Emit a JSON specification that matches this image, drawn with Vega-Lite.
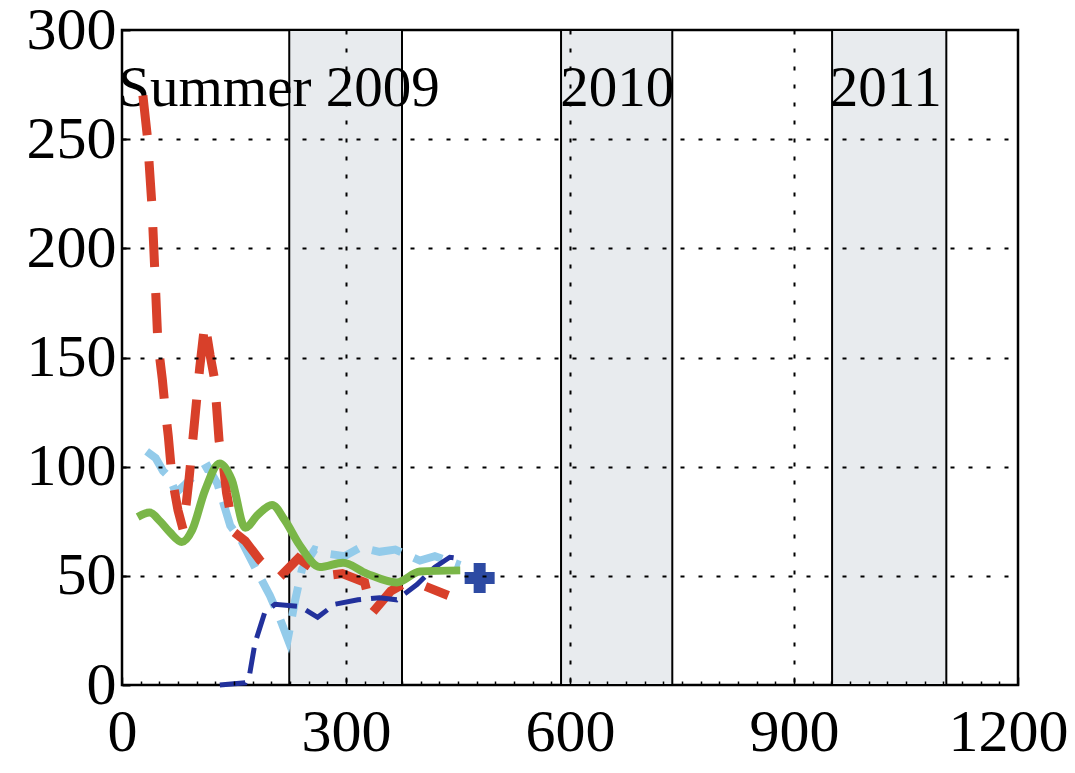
{
  "$schema": "https://vega.github.io/schema/vega-lite/v6.json",
  "width": 896,
  "height": 655,
  "autosize": {"type": "none"},
  "padding": {"left": 122, "top": 30, "right": 57, "bottom": 88},
  "background": "white",
  "config": {
    "view": {"stroke": "black", "strokeWidth": 2.5},
    "font": "Liberation Serif"
  },
  "datasets": {
    "seasons": [
      {"start": 224, "end": 375},
      {"start": 588, "end": 737},
      {"start": 951, "end": 1104}
    ],
    "notes": [
      {"x": -5, "y": 265, "text": "Summer 2009"},
      {"x": 587, "y": 265, "text": "2010"},
      {"x": 948, "y": 265, "text": "2011"}
    ],
    "series": [
      {"s": "red", "x": 28, "y": 270},
      {"s": "red", "x": 34, "y": 251},
      {"s": "red", "x": 40, "y": 220},
      {"s": "red", "x": 44, "y": 189},
      {"s": "red", "x": 48, "y": 157},
      {"s": "red", "x": 54, "y": 140},
      {"s": "red", "x": 58, "y": 126},
      {"s": "red", "x": 62, "y": 114},
      {"s": "red", "x": 67, "y": 95},
      {"s": "red", "x": 75, "y": 80},
      {"s": "red", "x": 82, "y": 71},
      {"s": "red", "x": 90, "y": 95},
      {"s": "red", "x": 97, "y": 120},
      {"s": "red", "x": 104, "y": 145},
      {"s": "red", "x": 111, "y": 166},
      {"s": "red", "x": 118, "y": 151},
      {"s": "red", "x": 124, "y": 140},
      {"s": "red", "x": 130, "y": 112},
      {"s": "red", "x": 136, "y": 100},
      {"s": "red", "x": 140, "y": 88},
      {"s": "red", "x": 150, "y": 70},
      {"s": "red", "x": 165, "y": 66},
      {"s": "red", "x": 185, "y": 57},
      {"s": "red", "x": 210, "y": 49},
      {"s": "red", "x": 236, "y": 58},
      {"s": "red", "x": 270, "y": 50},
      {"s": "red", "x": 295, "y": 51},
      {"s": "red", "x": 325, "y": 47},
      {"s": "red", "x": 335, "y": 33},
      {"s": "red", "x": 360, "y": 43},
      {"s": "red", "x": 386, "y": 48},
      {"s": "red", "x": 437, "y": 41},
      {"s": "lightblue", "x": 33, "y": 107},
      {"s": "lightblue", "x": 45, "y": 104},
      {"s": "lightblue", "x": 55, "y": 98},
      {"s": "lightblue", "x": 64, "y": 95},
      {"s": "lightblue", "x": 72, "y": 88},
      {"s": "lightblue", "x": 85, "y": 92},
      {"s": "lightblue", "x": 100, "y": 97},
      {"s": "lightblue", "x": 115, "y": 100},
      {"s": "lightblue", "x": 128, "y": 92},
      {"s": "lightblue", "x": 137, "y": 82},
      {"s": "lightblue", "x": 145, "y": 73},
      {"s": "lightblue", "x": 160, "y": 66},
      {"s": "lightblue", "x": 178, "y": 54},
      {"s": "lightblue", "x": 198, "y": 41},
      {"s": "lightblue", "x": 212, "y": 30},
      {"s": "lightblue", "x": 222, "y": 21},
      {"s": "lightblue", "x": 232, "y": 39},
      {"s": "lightblue", "x": 241, "y": 53},
      {"s": "lightblue", "x": 258, "y": 62},
      {"s": "lightblue", "x": 278, "y": 60},
      {"s": "lightblue", "x": 298, "y": 59},
      {"s": "lightblue", "x": 319, "y": 63},
      {"s": "lightblue", "x": 345, "y": 61},
      {"s": "lightblue", "x": 366, "y": 62},
      {"s": "lightblue", "x": 399, "y": 57},
      {"s": "lightblue", "x": 419, "y": 59},
      {"s": "lightblue", "x": 453, "y": 55},
      {"s": "darkblue", "x": 131, "y": 0},
      {"s": "darkblue", "x": 165, "y": 1},
      {"s": "darkblue", "x": 171, "y": 5},
      {"s": "darkblue", "x": 178, "y": 19},
      {"s": "darkblue", "x": 191, "y": 33},
      {"s": "darkblue", "x": 205, "y": 37},
      {"s": "darkblue", "x": 238, "y": 36},
      {"s": "darkblue", "x": 262, "y": 31},
      {"s": "darkblue", "x": 285, "y": 37},
      {"s": "darkblue", "x": 316, "y": 39},
      {"s": "darkblue", "x": 345, "y": 40},
      {"s": "darkblue", "x": 368, "y": 39},
      {"s": "darkblue", "x": 395, "y": 46},
      {"s": "darkblue", "x": 419, "y": 54},
      {"s": "darkblue", "x": 439, "y": 58.5},
      {"s": "darkblue", "x": 449, "y": 58},
      {"s": "green", "x": 21, "y": 77},
      {"s": "green", "x": 37, "y": 79},
      {"s": "green", "x": 51, "y": 75},
      {"s": "green", "x": 64, "y": 70},
      {"s": "green", "x": 80, "y": 65.5},
      {"s": "green", "x": 94, "y": 71},
      {"s": "green", "x": 111, "y": 89},
      {"s": "green", "x": 131, "y": 101.5},
      {"s": "green", "x": 147, "y": 94},
      {"s": "green", "x": 165, "y": 72},
      {"s": "green", "x": 182, "y": 78},
      {"s": "green", "x": 201, "y": 82.5},
      {"s": "green", "x": 218, "y": 75.5},
      {"s": "green", "x": 238, "y": 64},
      {"s": "green", "x": 265, "y": 54},
      {"s": "green", "x": 296, "y": 56},
      {"s": "green", "x": 328, "y": 51},
      {"s": "green", "x": 368, "y": 47},
      {"s": "green", "x": 399, "y": 52},
      {"s": "green", "x": 453, "y": 52.5}
    ],
    "marker": [{"x": 479, "y": 49}]
  },
  "encoding": {
    "x": {
      "type": "quantitative",
      "scale": {"domain": [0, 1200], "nice": false, "zero": false},
      "axis": {
        "title": null,
        "zindex": 1,
        "format": "d",
        "values": [0,25,50,75,100,125,150,175,200,225,250,275,300,325,350,375,400,425,450,475,500,525,550,575,600,625,650,675,700,725,750,775,800,825,850,875,900,925,950,975,1000,1025,1050,1075,1100,1125,1150,1175,1200],
        "labelExpr": "datum.value % 300 === 0 ? datum.label : ''",
        "labelFont": "Liberation Serif",
        "labelFontSize": 60,
        "labelColor": "black",
        "labelPadding": 26,
        "labelOffset": {"condition": {"test": "datum.value === 1200", "value": -10}, "value": 0},
        "labelFlush": false,
        "labelOverlap": false,
        "domain": false,
        "ticks": true,
        "tickColor": "black",
        "tickWidth": 1.5,
        "tickSize": {"condition": {"test": "datum.value % 300 === 0", "value": -8}, "value": -4},
        "grid": true,
        "gridColor": "black",
        "gridWidth": 2,
        "gridDash": [4, 14],
        "gridOpacity": {"condition": {"test": "datum.value % 300 === 0 && datum.value > 0 && datum.value < 1200", "value": 1}, "value": 0}
      }
    },
    "y": {
      "type": "quantitative",
      "scale": {"domain": [0, 300], "nice": false},
      "axis": {
        "title": null,
        "zindex": 1,
        "values": [0, 50, 100, 150, 200, 250, 300],
        "labelFont": "Liberation Serif",
        "labelFontSize": 60,
        "labelColor": "black",
        "labelPadding": 14,
        "labelFlush": false,
        "labelOverlap": false,
        "domain": false,
        "tickColor": "black",
        "tickWidth": 2,
        "tickSize": -8,
        "grid": true,
        "gridColor": "black",
        "gridWidth": 2,
        "gridDash": [4, 14],
        "gridOpacity": {"condition": {"test": "datum.value > 0 && datum.value < 300", "value": 1}, "value": 0}
      }
    }
  },
  "layer": [
    {
      "data": {"name": "seasons"},
      "mark": {"type": "rect", "fill": "#e8ebee", "stroke": "black", "strokeWidth": 2},
      "encoding": {
        "x": {"field": "start"},
        "x2": {"field": "end"},
        "y": {"datum": 0},
        "y2": {"datum": 300}
      }
    },
    {
      "data": {"name": "notes"},
      "mark": {"type": "text", "align": "left", "baseline": "alphabetic", "font": "Liberation Serif", "fontSize": 57, "color": "black"},
      "encoding": {
        "x": {"field": "x"},
        "y": {"field": "y"},
        "text": {"field": "text"}
      }
    },
    {
      "data": {"name": "series"},
      "transform": [{"filter": "datum.s === 'lightblue'"}],
      "mark": {"type": "line", "color": "#93cbea", "strokeWidth": 8, "strokeDash": [30, 14]},
      "encoding": {"x": {"field": "x"}, "y": {"field": "y"}}
    },
    {
      "data": {"name": "series"},
      "transform": [{"filter": "datum.s === 'red'"}],
      "mark": {"type": "line", "color": "#d8402a", "strokeWidth": 9, "strokeDash": [40, 26]},
      "encoding": {"x": {"field": "x"}, "y": {"field": "y"}}
    },
    {
      "data": {"name": "series"},
      "transform": [{"filter": "datum.s === 'darkblue'"}],
      "mark": {"type": "line", "color": "#22319c", "strokeWidth": 5, "strokeDash": [26, 10]},
      "encoding": {"x": {"field": "x"}, "y": {"field": "y"}}
    },
    {
      "data": {"name": "series"},
      "transform": [{"filter": "datum.s === 'green'"}],
      "mark": {"type": "line", "color": "#7ab648", "strokeWidth": 8, "interpolate": "monotone"},
      "encoding": {"x": {"field": "x"}, "y": {"field": "y"}}
    },
    {
      "data": {"name": "marker"},
      "mark": {"type": "point", "shape": "cross", "filled": true, "color": "#2d4aa3", "size": 900, "opacity": 1},
      "encoding": {"x": {"field": "x"}, "y": {"field": "y"}}
    }
  ]
}
